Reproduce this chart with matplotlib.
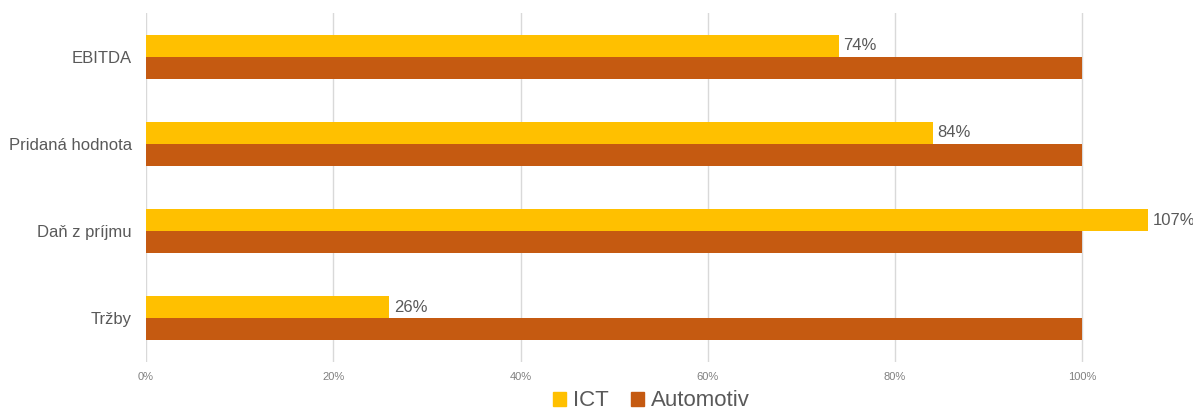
import matplotlib
matplotlib.use("Agg")
import matplotlib.pyplot as plt
from matplotlib.patches import Patch
import numpy as np

categories = ["EBITDA", "Pridaná hodnota", "Daň z príjmu", "Tržby"]
ict = [74, 84, 107, 26]
automotiv = [100, 100, 100, 100]
xticks = [0, 20, 40, 60, 80, 100]
xtick_labels = ["0%", "20%", "40%", "60%", "80%", "100%"]

plt.rcParams['font.family'] = ['Liberation Sans', 'DejaVu Sans']

W, H = 1193, 412
fig = plt.figure(figsize=(W/100, H/100), dpi=100)
ax = fig.add_axes([146/W, 1-362/H, (1176-146)/W, (362-13)/H])

y = np.arange(len(categories))
h = 0.252
c_ict = "#FFC000"
c_auto = "#C55A11"
ax.barh(y - h/2, ict, height=h, color=c_ict, zorder=3)
ax.barh(y + h/2, automotiv, height=h, color=c_auto, zorder=3)

for yi, v in zip(y, ict):
    ax.text(v + 0.5, yi - h/2, f"{v}%", va="center", ha="left", fontsize=12, color="#595959")

ax.set_xlim(0, 110)
ax.set_ylim(len(categories) - 0.5, -0.5)
ax.set_yticks(y)
ax.set_yticklabels(categories, fontsize=12, color="#595959")
ax.set_xticks(xticks)
ax.set_xticklabels(xtick_labels, fontsize=8, color="#808080")
ax.tick_params(axis='both', length=0)
ax.tick_params(axis='y', pad=10)
ax.tick_params(axis='x', pad=7)
ax.grid(axis='x', color="#D9D9D9", linewidth=1, zorder=0)
for s in ax.spines.values():
    s.set_visible(False)

handles = [Patch(color=c_ict, label="ICT"), Patch(color=c_auto, label="Automotiv")]
fig.legend(handles=handles, loc="center", bbox_to_anchor=(651/W, 1-401/H), ncol=2,
           frameon=False, fontsize=16, handlelength=0.6, handleheight=0.6,
           handletextpad=0.3, columnspacing=1.0, labelcolor="#595959",
           borderpad=0, borderaxespad=0)

fig.savefig("out.png", dpi=100)
